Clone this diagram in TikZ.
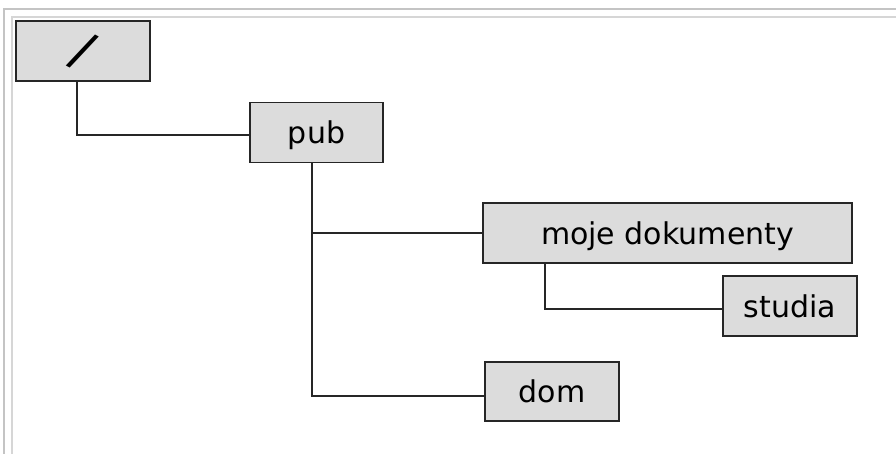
\documentclass[tikz,border=0pt]{standalone}
\usepackage{fontspec}
\setmainfont{DejaVu Sans}
\newfontfamily\slashfont{Liberation Sans}
\begin{document}
\begin{tikzpicture}[x=1pt,y=-1pt,
  dirbox/.style={draw=black!85, line width=1.8pt, fill=boxfill, inner sep=0pt,
    font=\fontsize{30}{36}\selectfont, text height=24pt, text depth=2pt, anchor=center},
  link/.style={draw=black!85, line width=1.8pt},
  frameline/.style={line width=2pt}]
\definecolor{boxfill}{HTML}{DCDCDC}
\definecolor{frameA}{HTML}{C4C4C4}
\definecolor{frameB}{HTML}{D6D6D6}
\useasboundingbox (0,0) rectangle (896,454);
% frame
\coordinate (fa) at (4,9);
\coordinate (fb) at (12,17);
\draw[frameline, frameA] (896,9) -- (fa) -- (4,454);
\draw[frameline, frameB] (896,17) -- (fb) -- (12,454);
% nodes
\node[dirbox, minimum width=134pt, minimum height=60pt, text height=17pt, text depth=17pt] (root) at (83,51)
  {\raisebox{-20pt}{\rotatebox[origin=c]{-28}{\slashfont\fontsize{56}{56}\selectfont /}}};
\node[dirbox, minimum width=133pt, minimum height=60pt] (pub) at (316.5,132.5) {pub};
\node[dirbox, minimum width=369pt, minimum height=60pt] (moje) at (667.5,233) {moje dokumenty};
\node[dirbox, minimum width=134pt, minimum height=60pt] (studia) at (790,306) {studia};
\node[dirbox, minimum width=134pt, minimum height=59pt] (dom) at (552,391.5) {dom};
% connectors
\coordinate (rootdrop) at ([xshift=-6pt]root.south);
\coordinate (trunk) at ([xshift=-4.5pt]pub.south);
\coordinate (mojedrop) at ([xshift=63pt]moje.south west);
\draw[link] (rootdrop) |- ([yshift=-2.5pt]pub.west);
\draw[link] (trunk) |- ([yshift=-4.5pt]dom.west);
\draw[link] (trunk |- moje.west) -- (moje.west);
\draw[link] (mojedrop) |- ([yshift=-3pt]studia.west);
\end{tikzpicture}
\end{document}
